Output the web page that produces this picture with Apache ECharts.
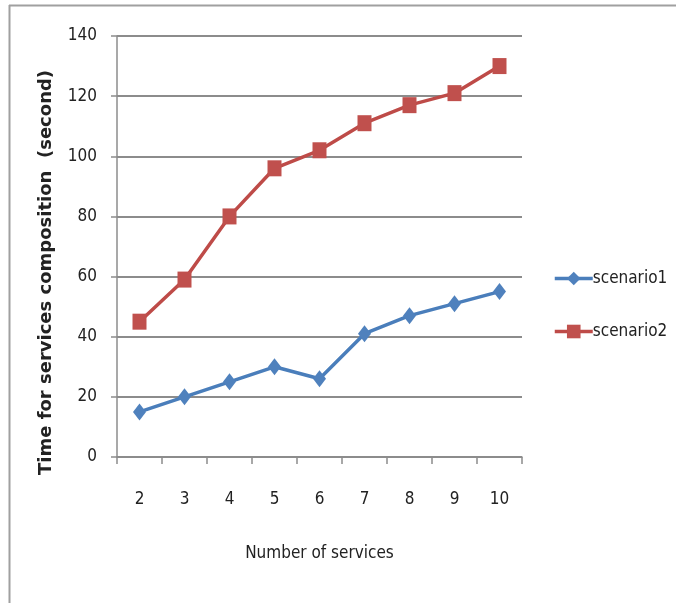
<!DOCTYPE html>
<html>
<head>
<meta charset="utf-8">
<script src="https://cdn.jsdelivr.net/npm/echarts@6/dist/echarts.min.js"></script>
<style>
  html, body { margin: 0; padding: 0; background: #fff; }
  #chart { width: 676px; height: 603px; }
</style>
</head>
<body>
<div id="chart"></div>
<script>
// Composition time per number of services
const services = ['2', '3', '4', '5', '6', '7', '8', '9', '10'];
const scenario1 = [15, 20, 25, 30, 26, 41, 47, 51, 55];
const scenario2 = [45, 59, 80, 96, 102, 111, 117, 121, 130];
const yTicks = { min: 0, max: 140, step: 20 };

const narrow = "'Liberation Sans Narrow', 'DejaVu Sans Condensed', sans-serif";
const gridGray = '#8c8c8c';

const chart = echarts.init(document.getElementById('chart'), null, { renderer: 'canvas' });
chart.setOption({
  backgroundColor: '#ffffff',
  animation: false,
  graphic: [
    { type: 'line', shape: { x1: 9, y1: 5.5, x2: 676, y2: 5.5 }, style: { stroke: '#a0a0a0', lineWidth: 2 } },
    { type: 'line', shape: { x1: 9.5, y1: 5, x2: 9.5, y2: 603 }, style: { stroke: '#a0a0a0', lineWidth: 2 } }
  ],
  grid: { left: 117, top: 36, right: 154, bottom: 146, containLabel: false },
  legend: {
    orient: 'vertical',
    left: 548,
    top: 265,
    itemWidth: 38,
    itemHeight: 17,
    itemGap: 36,
    lineStyle: { width: 3.5 },
    textStyle: { fontFamily: narrow, fontSize: 17, color: '#222', padding: [0, 0, 0, -5] },
    data: ['scenario1', 'scenario2']
  },
  xAxis: {
    type: 'category',
    data: services,
    boundaryGap: true,
    name: 'Number of services',
    nameLocation: 'middle',
    nameGap: 88,
    nameTextStyle: { fontFamily: narrow, fontSize: 17, color: '#222' },
    axisLine: { lineStyle: { color: gridGray, width: 1.5 } },
    axisTick: { show: true, length: 7, alignWithLabel: false, lineStyle: { color: gridGray, width: 1.5 } },
    axisLabel: { margin: 34, fontFamily: narrow, fontSize: 17, color: '#222' },
    splitLine: { show: false }
  },
  yAxis: {
    type: 'value',
    min: yTicks.min,
    max: yTicks.max,
    interval: yTicks.step,
    name: 'Time for services composition  (second)',
    nameLocation: 'middle',
    nameGap: 62,
    nameRotate: 90,
    nameTextStyle: { fontFamily: 'DejaVu Sans', fontWeight: 'bold', fontSize: 18, color: '#222', padding: [0, 52, 0, 0] },
    axisLine: { show: true, lineStyle: { color: gridGray, width: 1.5 } },
    axisTick: { show: true, length: 6, lineStyle: { color: gridGray, width: 1.5 } },
    axisLabel: { margin: 20, fontFamily: narrow, fontSize: 17, color: '#222' },
    splitLine: { show: true, lineStyle: { color: gridGray, width: 1.8 } }
  },
  series: [
    {
      name: 'scenario1',
      type: 'line',
      data: scenario1,
      symbol: 'diamond',
      symbolSize: [13, 17],
      lineStyle: { color: '#4a7ebb', width: 3.5 },
      itemStyle: { color: '#4f81bd' },
      z: 3
    },
    {
      name: 'scenario2',
      type: 'line',
      data: scenario2,
      symbol: 'rect',
      symbolSize: [14, 16],
      lineStyle: { color: '#be4b48', width: 3.5 },
      itemStyle: { color: '#c0504d' },
      z: 3
    }
  ]
});
</script>
</body>
</html>
